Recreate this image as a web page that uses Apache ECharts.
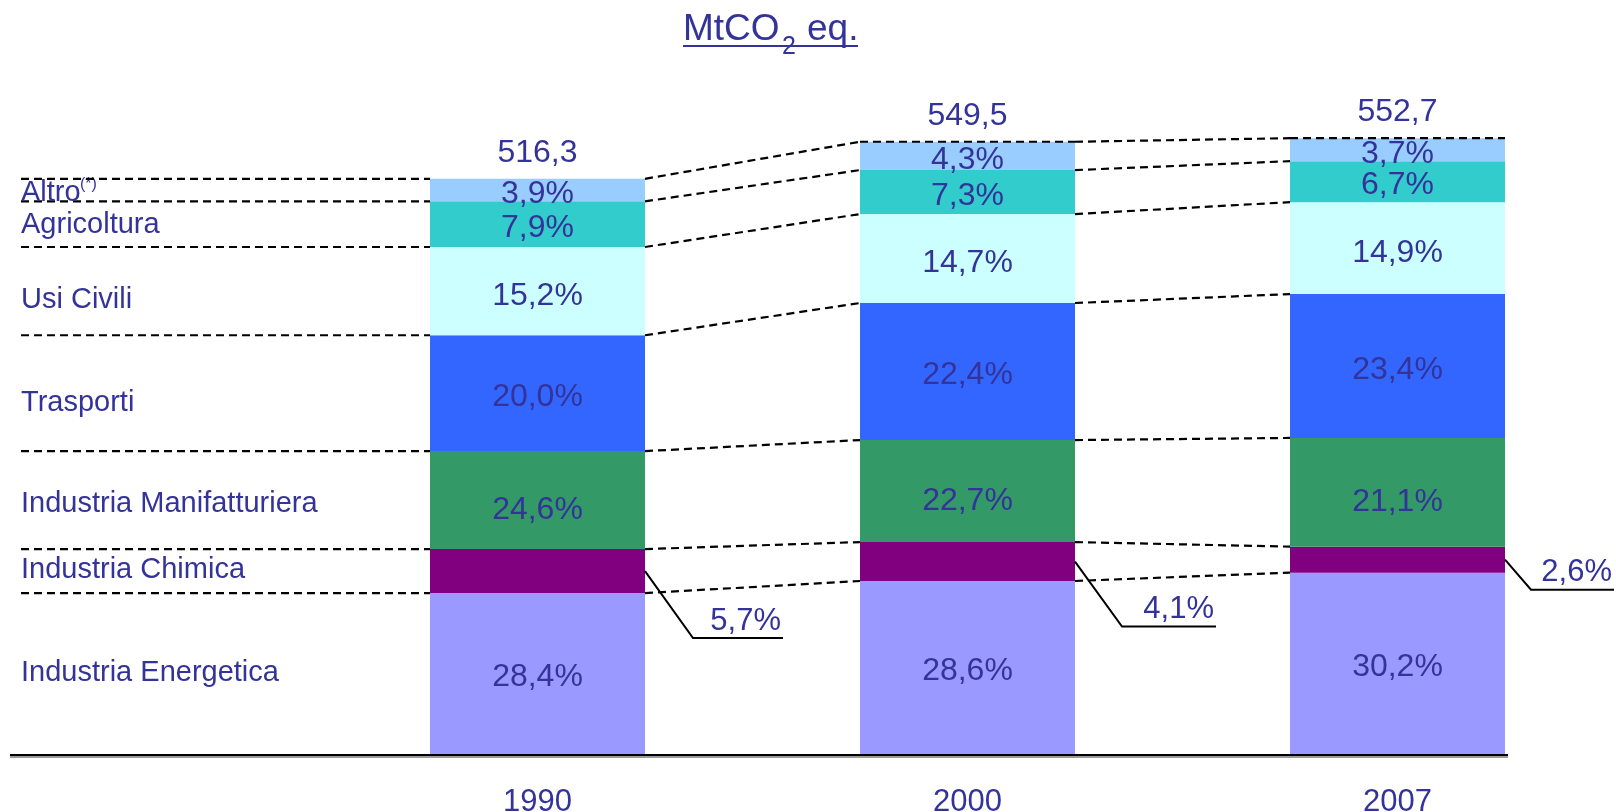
<!DOCTYPE html>
<html>
<head>
<meta charset="utf-8">
<script src="https://cdn.jsdelivr.net/npm/echarts@6/dist/echarts.min.js"></script>
<style>
html,body{margin:0;padding:0;background:#fff;}
#main{width:1616px;height:812px;}
</style>
</head>
<body>
<div id="main"></div>
<script>
// ---- DATA ----
const categories = ['1990', '2000', '2007'];
const seriesNames = ['Industria Energetica', 'Industria Chimica', 'Industria Manifatturiera', 'Trasporti', 'Usi Civili', 'Agricoltura', 'Altro'];
// segment values in MtCO2 eq.
const energetica     = [145.1, 155.9, 163.4];
const chimica        = [39.4, 34.9, 23.3];
const manifatturiera = [87.8, 91.4, 97.4];
const trasporti      = [103.8, 122.8, 128.9];
const civili         = [79.1, 79.7, 82.4];
const agricoltura    = [40.9, 39.4, 36.7];
const altro          = [20.2, 25.4, 20.6];
// percentage labels as printed
const pctEnergetica     = [28.4, 28.6, 30.2];
const pctChimica        = [5.7, 4.1, 2.6];
const pctManifatturiera = [24.6, 22.7, 21.1];
const pctTrasporti      = [20.0, 22.4, 23.4];
const pctCivili         = [15.2, 14.7, 14.9];
const pctAgricoltura    = [7.9, 7.3, 6.7];
const pctAltro          = [3.9, 4.3, 3.7];
const totals            = [516.3, 549.5, 552.7];

// ---- STYLE / LAYOUT ----
const values = [energetica, chimica, manifatturiera, trasporti, civili, agricoltura, altro];
const pcts = [pctEnergetica, pctChimica, pctManifatturiera, pctTrasporti, pctCivili, pctAgricoltura, pctAltro];
const colors = ['#9999FF', '#800080', '#339966', '#3366FF', '#CCFFFF', '#33CCCC', '#99CCFF'];
const TXT = '#333399';
const FONT = 'Liberation Sans, Arial, Helvetica, sans-serif';
const LEFT_X = 21;
const leftLabelOffsets = [-1, -1, 4, 10, 9, 1, 3];
const barLabelOffsets = [3, 0, 10, 4, 5, 4, 4];
const leader = [ {dx: 48, dy: 67, h: 90}, {dx: 47, dy: 65, h: 94}, {dx: 26, dy: 30, h: 83} ];

function fmt(v, d) { return v.toFixed(d).replace('.', ','); }

const chart = echarts.init(document.getElementById('main'));

const barSeries = seriesNames.map((name, s) => ({
  name: name,
  type: 'bar',
  stack: 'tot',
  barWidth: '50%',
  data: values[s],
  itemStyle: { color: colors[s] },
  silent: true,
  label: {
    show: s !== 1,
    position: 'inside',
    offset: [0, barLabelOffsets[s]],
    color: TXT,
    fontSize: 32,
    fontFamily: FONT,
    formatter: p => fmt(pcts[s][p.dataIndex], 1) + '%'
  }
}));

function cumTops(i) {
  const out = []; let c = 0;
  for (let s = 0; s < values.length; s++) { c += values[s][i]; out.push(c); }
  return out;
}

const dash = { stroke: '#000', lineWidth: 2.2, lineDash: [8, 5] };

const overlay = {
  type: 'custom',
  data: [[0, 0], [1, 0], [2, 0]],
  encode: { x: 0, y: 1 },
  clip: false,
  silent: true,
  z: 10,
  renderItem: function (params, api) {
    const i = api.value(0);
    const band = api.size([1, 0])[0];
    const half = band * 0.25;
    const cx = api.coord([i, 0])[0];
    const tops = cumTops(i);
    const ch = [];
    if (i === 0) {
      const y0 = api.coord([0, 0])[1];
      ch.push({ type: 'line', shape: { x1: 10, y1: y0 + 2, x2: 1508, y2: y0 + 2 }, style: { stroke: '#9a9a9a', lineWidth: 2 } });
      ch.push({ type: 'line', shape: { x1: 10, y1: y0, x2: 1508, y2: y0 }, style: { stroke: '#000', lineWidth: 2 } });
      tops.forEach(t => {
        const y = api.coord([0, t])[1];
        ch.push({ type: 'line', shape: { x1: LEFT_X, y1: y, x2: cx - half, y2: y }, style: dash });
      });
      let prev = 0;
      seriesNames.forEach((n, s) => {
        const yc = api.coord([0, prev + values[s][0] / 2])[1] + leftLabelOffsets[s];
        prev += values[s][0];
        ch.push({ type: 'text', x: LEFT_X, y: yc, style: { text: n, fill: TXT, fontSize: 29, fontFamily: FONT, align: 'left', verticalAlign: 'middle' } });
      });
    }
    if (i < categories.length - 1) {
      const nx = api.coord([i + 1, 0])[0];
      const ntops = cumTops(i + 1);
      tops.forEach((t, k) => {
        ch.push({ type: 'line', shape: { x1: cx + half, y1: api.coord([i, t])[1], x2: nx - half, y2: api.coord([i + 1, ntops[k]])[1] }, style: dash });
      });
    }
    if (i >= 1) {
      const yt = api.coord([i, tops[tops.length - 1]])[1];
      ch.push({ type: 'line', shape: { x1: cx - half, y1: yt, x2: cx + half, y2: yt }, style: dash });
    }
    // leader for Industria Chimica
    const ycC = api.coord([i, values[0][i] + values[1][i] / 2])[1];
    const L = leader[i];
    const sx = cx + half, ex = sx + L.dx, ey = ycC + L.dy, hx = ex + L.h;
    ch.push({ type: 'polyline', shape: { points: [[sx, ycC], [ex, ey], [hx, ey]] }, style: { stroke: '#000', lineWidth: 2, fill: null } });
    ch.push({ type: 'text', x: hx - 2, y: ey - 17, style: { text: fmt(pctChimica[i], 1) + '%', fill: TXT, fontSize: 31, fontFamily: FONT, align: 'right', verticalAlign: 'middle' } });
    // total
    const ytot = api.coord([i, totals[i]])[1];
    ch.push({ type: 'text', x: cx, y: ytot - 26, style: { text: fmt(totals[i], 1), fill: TXT, fontSize: 32, fontFamily: FONT, align: 'center', verticalAlign: 'middle' } });
    return { type: 'group', children: ch };
  }
};

chart.setOption({
  animation: false,
  backgroundColor: '#fff',
  grid: { left: 322.5, width: 1290, top: 85.4, bottom: 57, containLabel: false, outerBoundsMode: 'none' },
  xAxis: {
    type: 'category',
    data: categories,
    axisLine: { show: false },
    axisTick: { show: false },
    axisLabel: { color: TXT, fontSize: 31, fontFamily: FONT, margin: 32 }
  },
  yAxis: { type: 'value', min: 0, max: 600, show: false },
  graphic: [
    { type: 'text', left: 683, top: 11, style: { text: 'MtCO', fill: TXT, fontSize: 37, fontFamily: FONT } },
    { type: 'text', left: 782, top: 35, style: { text: '2', fill: TXT, fontSize: 25, fontFamily: FONT } },
    { type: 'text', left: 807, top: 11, style: { text: 'eq.', fill: TXT, fontSize: 37, fontFamily: FONT } },
    { type: 'rect', left: 683, top: 45, shape: { width: 175, height: 2 }, style: { fill: TXT } },
    { type: 'text', left: 80, top: 177, style: { text: '(*)', fill: TXT, fontSize: 16, fontFamily: FONT } }
  ],
  series: barSeries.concat([overlay])
});
</script>
</body>
</html>
